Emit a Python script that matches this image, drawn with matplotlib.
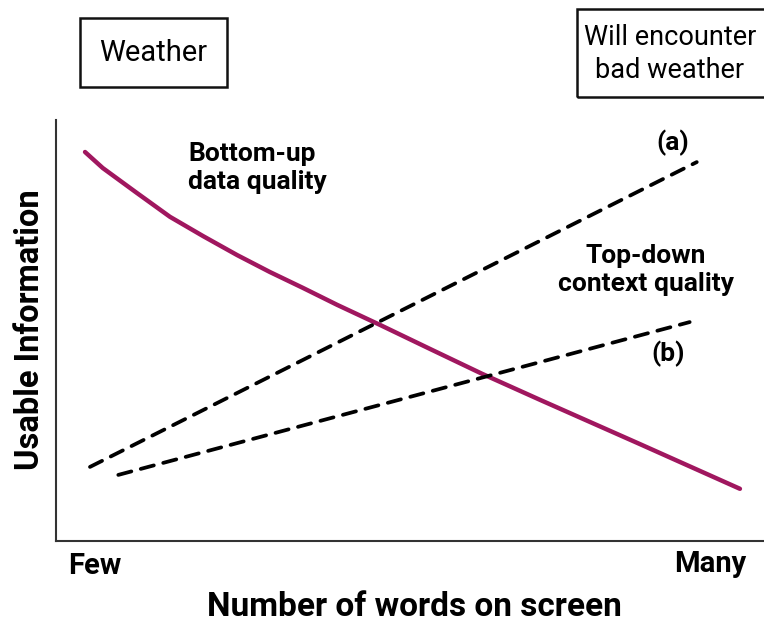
import matplotlib.pyplot as plt
from matplotlib.patches import Rectangle

plt.rcParams['font.family'] = ['Roboto', 'DejaVu Sans']

# 数据（相对单位 0-10）
bottom_up_x = [0.41, 0.66, 1.14, 1.61, 2.08, 2.56, 3.02, 3.49, 3.97, 4.58, 5.31, 6.02, 6.84, 8.25, 9.66]
bottom_up_y = [9.24, 8.86, 8.27, 7.70, 7.24, 6.79, 6.39, 6.01, 5.61, 5.13, 4.54, 3.97, 3.35, 2.30, 1.24]
top_down_a_x = [0.48, 9.05]
top_down_a_y = [1.76, 9.00]
top_down_b_x = [0.88, 8.95]
top_down_b_y = [1.57, 5.20]

W, H = 764, 623
fig = plt.figure(figsize=(W / 100, H / 100), dpi=100)
ax = fig.add_axes([56 / W, 1 - 541 / H, (W - 56) / W, (541 - 120) / H])
ax.set_xlim(0, 10)
ax.set_ylim(0, 10)

ax.plot(bottom_up_x, bottom_up_y, color='#a0175f', lw=3.2, solid_capstyle='round', solid_joinstyle='round')
ax.plot(top_down_a_x, top_down_a_y, color='black', lw=2.7, dashes=(3.6, 2.6), dash_capstyle='round')
ax.plot(top_down_b_x, top_down_b_y, color='black', lw=2.7, dashes=(3.6, 2.6), dash_capstyle='round')

for s in ['top', 'right']:
    ax.spines[s].set_visible(False)
for s in ['left', 'bottom']:
    ax.spines[s].set_linewidth(1.5)
    ax.spines[s].set_color('#333333')
ax.set_xticks([])
ax.set_yticks([])

def px(x, y):
    return x / W, 1 - y / H

# 注释文字
fig.text(*px(188, 168), 'Bottom-up\ndata quality', fontsize=19, fontweight='bold', va='center', ha='left', linespacing=1.2)
fig.text(*px(646, 270), 'Top-down\ncontext quality', fontsize=19, fontweight='bold', va='center', ha='center', linespacing=1.2)
fig.text(*px(673, 143), '(a)', fontsize=19, fontweight='bold', va='center', ha='center')
fig.text(*px(668, 354), '(b)', fontsize=19, fontweight='bold', va='center', ha='center')

fig.text(*px(95, 566), 'Few', fontsize=21, fontweight='bold', va='center', ha='center')
fig.text(*px(710, 564), 'Many', fontsize=21, fontweight='bold', va='center', ha='center')
fig.text(*px(414, 607), 'Number of words on screen', fontsize=24, fontweight='bold', va='center', ha='center')
fig.text(*px(30, 330), 'Usable Information', fontsize=23.5, fontweight='bold', va='center', ha='center', rotation=90)

# 顶部方框
fig.add_artist(Rectangle(px(80, 87), 147 / W, 69 / H, transform=fig.transFigure, fill=False, lw=1.8, ec='#111111'))
fig.text(*px(153, 53), 'Weather', fontsize=21, va='center', ha='center')
fig.add_artist(Rectangle(px(577, 97), 200 / W, 88 / H, transform=fig.transFigure, fill=False, lw=1.8, ec='#111111'))
fig.text(*px(670, 54), 'Will encounter\nbad weather', fontsize=19.5, va='center', ha='center', linespacing=1.25)

fig.savefig('out.png', dpi=100)
